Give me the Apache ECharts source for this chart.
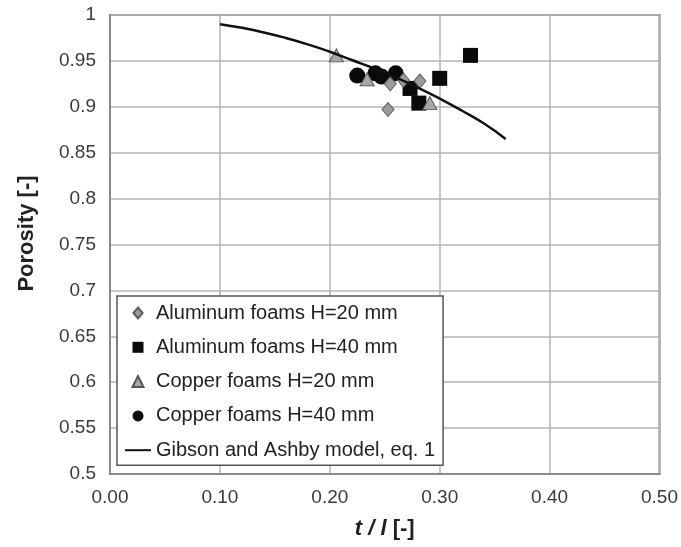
<!DOCTYPE html>
<html>
<head>
<meta charset="utf-8">
<script src="https://cdn.jsdelivr.net/npm/echarts@6/dist/echarts.min.js"></script>
<style>
  html, body { margin: 0; padding: 0; background: #fff; }
  #chart { width: 681px; height: 547px; }
</style>
</head>
<body>
<div id="chart"></div>
<script>
// Measured porosity vs. strut thickness ratio t/l
const alu20X = [0.253, 0.255, 0.267, 0.282];
const alu20Y = [0.897, 0.925, 0.929, 0.928];

const alu40X = [0.273, 0.281, 0.300, 0.328];
const alu40Y = [0.920, 0.904, 0.931, 0.956];

const cu20X = [0.206, 0.234, 0.291];
const cu20Y = [0.956, 0.930, 0.904];

const cu40X = [0.225, 0.2415, 0.247, 0.260];
const cu40Y = [0.934, 0.9365, 0.933, 0.9365];

// Gibson and Ashby model curve
const modelX = [0.10, 0.12, 0.14, 0.16, 0.18, 0.20, 0.22, 0.24, 0.26, 0.28, 0.30, 0.32, 0.34, 0.36];
const modelY = [0.990, 0.986, 0.981, 0.975, 0.968, 0.960, 0.951, 0.942, 0.932, 0.921, 0.909, 0.896, 0.882, 0.865];

const seriesNames = [
  'Aluminum foams H=20 mm',
  'Aluminum foams H=40 mm',
  'Copper foams H=20 mm',
  'Copper foams H=40 mm',
  'Gibson and Ashby model, eq. 1'
];

const xTicks = { min: 0, max: 0.5, step: 0.1 };
const yTicks = { min: 0.5, max: 1, step: 0.05 };

const pairs = (xs, ys) => xs.map((x, i) => [x, ys[i]]);

const FONT = '"Liberation Sans", Arial, Helvetica, sans-serif';

// Legend glyphs as paths so they keep their proportions in a wide legend slot
const ICON_DIAMOND = 'path://M5,0L10,6L5,12L0,6Z';
const ICON_SQUARE = 'path://M0,0L10,0L10,10L0,10Z';
const ICON_TRIANGLE = 'path://M5,0L10,10L0,10Z';
const ICON_CIRCLE = 'path://M5,0A5,5,0,1,1,5,10A5,5,0,1,1,5,0Z';

const chart = echarts.init(document.getElementById('chart'), null, { renderer: 'canvas' });

chart.setOption({
  animation: false,
  backgroundColor: '#ffffff',
  textStyle: { fontFamily: FONT },
  grid: {
    left: 110, top: 15, right: 19, bottom: 73,
    show: true, borderColor: '#8a8a8a', borderWidth: 2,
    containLabel: false
  },
  xAxis: {
    type: 'value',
    min: xTicks.min, max: xTicks.max, interval: xTicks.step,
    name: '{i|t / l} [-]',
    nameLocation: 'middle',
    nameGap: 44,
    nameTextStyle: {
      fontFamily: FONT, fontSize: 22, fontWeight: 'bold', color: '#222',
      rich: { i: { fontFamily: FONT, fontSize: 22, fontWeight: 'bold', fontStyle: 'italic', color: '#222' } }
    },
    axisLine: { show: true, lineStyle: { color: '#8a8a8a', width: 2 } },
    axisTick: { show: false },
    axisLabel: {
      margin: 14, fontSize: 19, color: '#3a3a3a', fontFamily: FONT,
      formatter: v => v.toFixed(2)
    },
    splitLine: { show: true, lineStyle: { color: '#b4b4b4', width: 1.5 } }
  },
  yAxis: {
    type: 'value',
    min: yTicks.min, max: yTicks.max, interval: yTicks.step,
    name: 'Porosity [-]',
    nameLocation: 'middle',
    nameRotate: 90,
    nameGap: 72,
    nameTextStyle: { fontFamily: FONT, fontSize: 22, fontWeight: 'bold', color: '#222', padding: [0, 0, 0, 22] },
    axisLine: { show: true, lineStyle: { color: '#8a8a8a', width: 2 } },
    axisTick: { show: false },
    axisLabel: {
      margin: 14, fontSize: 19, color: '#3a3a3a', fontFamily: FONT,
      formatter: v => String(Number(v.toFixed(2)))
    },
    splitLine: { show: true, lineStyle: { color: '#b4b4b4', width: 1.5 } }
  },
  legend: {
    orient: 'vertical',
    left: 117, top: 296,
    data: [
      { name: seriesNames[0], icon: ICON_DIAMOND },
      { name: seriesNames[1], icon: ICON_SQUARE },
      { name: seriesNames[2], icon: ICON_TRIANGLE },
      { name: seriesNames[3], icon: ICON_CIRCLE },
      { name: seriesNames[4], itemStyle: { opacity: 0 }, lineStyle: { color: '#111', width: 2 } }
    ],
    symbolKeepAspect: true,
    backgroundColor: '#ffffff',
    borderColor: '#555',
    borderWidth: 1.5,
    borderRadius: 0,
    padding: [7, 8, 5, 7],
    itemWidth: 26,
    itemHeight: 11,
    itemGap: 14.3,
    textStyle: { fontFamily: FONT, fontSize: 20, color: '#222' }
  },
  series: [
    {
      name: seriesNames[0], type: 'scatter', z: 3,
      symbol: 'diamond', symbolSize: [12, 14],
      itemStyle: { color: '#9c9c9c', borderColor: '#5e5e5e', borderWidth: 1, opacity: 1 },
      data: pairs(alu20X, alu20Y)
    },
    {
      name: seriesNames[1], type: 'scatter', z: 2,
      symbol: 'rect', symbolSize: 15,
      itemStyle: { color: '#0a0a0a', borderWidth: 0, opacity: 1 },
      data: pairs(alu40X, alu40Y)
    },
    {
      name: seriesNames[2], type: 'scatter', z: 4,
      symbol: 'triangle', symbolSize: [14, 13],
      itemStyle: { color: '#a8a8a8', borderColor: '#555', borderWidth: 1, opacity: 1 },
      data: pairs(cu20X, cu20Y)
    },
    {
      name: seriesNames[3], type: 'scatter', z: 2,
      symbol: 'circle', symbolSize: 16,
      itemStyle: { color: '#0a0a0a', borderWidth: 0, opacity: 1 },
      data: pairs(cu40X, cu40Y)
    },
    {
      name: seriesNames[4], type: 'line', z: 5,
      showSymbol: false, symbol: 'none', smooth: true,
      lineStyle: { color: '#111', width: 2.5 },
      itemStyle: { color: '#111' },
      data: pairs(modelX, modelY)
    }
  ]
});
</script>
</body>
</html>
